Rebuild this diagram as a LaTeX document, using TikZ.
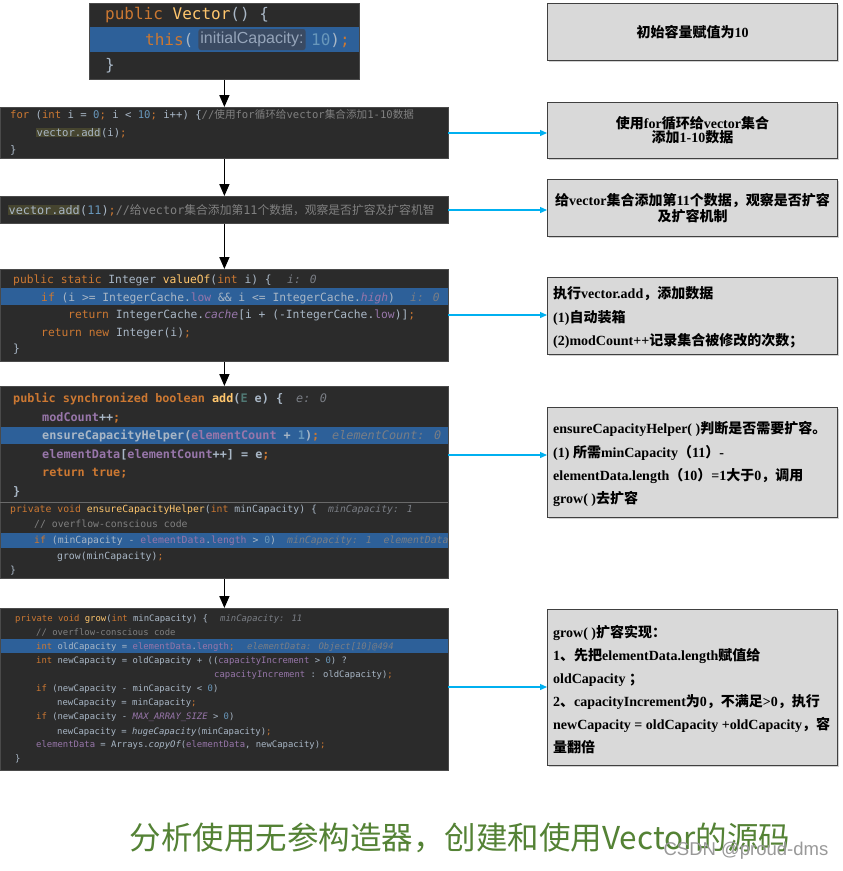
\documentclass[tikz,border=0pt]{standalone}
\usepackage{fontspec}
\setmainfont{Liberation Serif}
\newfontfamily\cjk{Noto Sans CJK SC}
\newfontfamily\codefont{DejaVu Sans Mono}
\newfontfamily\hintfont{Liberation Sans}
\usetikzlibrary{arrows.meta,shadows}
\definecolor{cbg}{HTML}{2B2B2B}
\definecolor{cedge}{HTML}{4A4A4A}
\definecolor{csep}{HTML}{6A6A6A}
\definecolor{cfg}{HTML}{A9B7C6}
\definecolor{ckw}{HTML}{CC7832}
\definecolor{cfn}{HTML}{FFC66D}
\definecolor{cnum}{HTML}{6897BB}
\definecolor{ccm}{HTML}{808080}
\definecolor{cfd}{HTML}{9876AA}
\definecolor{chint}{HTML}{7A7E85}
\definecolor{chl}{HTML}{2D6099}
\definecolor{colive}{HTML}{46452F}
\definecolor{ctp}{HTML}{507874}
\definecolor{chintbg}{HTML}{3A4A62}
\definecolor{chinttx}{HTML}{96A5BA}
\definecolor{rbfill}{HTML}{D9D9D9}
\definecolor{rbdraw}{HTML}{404040}
\definecolor{arrblue}{HTML}{00B0F0}
\definecolor{capgreen}{RGB}{84,130,53}
\newcommand\cKw[1]{\textcolor{ckw}{#1}}
\newcommand\cFn[1]{\textcolor{cfn}{#1}}
\newcommand\cNum[1]{\textcolor{cnum}{#1}}
\newcommand\cCom[1]{\textcolor{ccm}{#1}}
\newcommand\cFld[1]{\textcolor{cfd}{#1}}
\newcommand\cFldI[1]{\textcolor{cfd}{\itshape #1}}
\newcommand\cHint[1]{\textcolor{chint}{\itshape #1}}
\newcommand\zh[1]{{\cjk #1}}
\newcommand\olv[1]{{\setlength\fboxsep{0.5pt}\colorbox{colive}{#1}}}
\newcommand\fsA{\codefont\fontsize{16}{18}\selectfont}
\newcommand\fsB{\codefont\fontsize{10.6}{12}\selectfont}
\newcommand\fsC{\codefont\fontsize{11.8}{13}\selectfont}
\newcommand\fsD{\codefont\fontsize{11.3}{13}\selectfont}
\newcommand\fsE{\codefont\bfseries\fontsize{11.8}{13}\selectfont}
\newcommand\fsF{\codefont\fontsize{9.8}{11}\selectfont}
\newcommand\fsG{\codefont\fontsize{8.9}{10}\selectfont}
\newcommand\rtfont{\bfseries\fontsize{14}{16}\selectfont}
\begin{document}
\begin{tikzpicture}[x=1pt,y=-1pt,
  codebox/.style={draw=cedge, fill=cbg, line width=0.8pt, inner sep=0, anchor=north west},
  rbox/.style={draw=rbdraw, fill=rbfill, line width=1pt, inner sep=0, anchor=north west,
    drop shadow={shadow xshift=1.5pt, shadow yshift=-1.5pt, fill=black!35}},
  cl/.style={anchor=base west, inner sep=0, text=cfg},
  rt/.style={anchor=base west, inner sep=0, text=black, font=\rtfont},
  blk/.style={draw=black, line width=1.6pt, -{Triangle[length=12pt,width=10pt]}},
  blu/.style={draw=arrblue, line width=1.3pt, -{Triangle[length=7pt,width=6pt]}},
  hintbox/.style={fill=chintbg, rounded corners=2.5pt, text=chinttx, inner xsep=2pt, inner ysep=0pt, minimum height=21pt, font=\hintfont\fontsize{16}{18}\selectfont}
]
\fill[white] (0,0) rectangle (843,871);
\useasboundingbox (0,0) rectangle (843,871);

% ---------- code box 1 ----------
\node[codebox, minimum width=270pt, minimum height=76pt] (c1) at (89,3) {};
\fill[chl] (89.5,27) rectangle (358.5,52);
\node[cl, font=\fsA] (c1l1) at (105,19.8) {\cKw{public} \cFn{Vector}() \{};
\node[cl, font=\fsA] (c1l2a) at (145,45) {\cKw{this}(};
\node[hintbox] (c1h) at (252,39.5) {initialCapacity:};
\node[cl, font=\fsA] (c1l2b) at (311,45) {\cNum{10})\cKw{;}};
\node[cl, font=\fsA] (c1l3) at (105,70.8) {\}};

% ---------- code box 2 ----------
\node[codebox, minimum width=448pt, minimum height=51pt] (c2) at (0,107) {};
\begin{scope}
\clip (0,107) rectangle (448,158);
\node[cl, font=\fsB] (c2l1) at (10,118.8) {\cKw{for} (\cKw{int} i = \cNum{0}\cKw{;} i < \cNum{10}\cKw{;} i++) \{\cCom{//\zh{使用}for\zh{循环给}vector\zh{集合添加}1-10\zh{数据}}};
\node[cl, font=\fsB] (c2l2) at (36,136.8) {\olv{vector.add}(i)\cKw{;}};
\node[cl, font=\fsB] (c2l3) at (10,153.8) {\}};
\end{scope}

% ---------- code box 3 ----------
\node[codebox, minimum width=448pt, minimum height=27pt] (c3) at (0,196) {};
\begin{scope}
\clip (0,196) rectangle (448,223);
\node[cl, font=\fsC] (c3l1) at (8,214.2) {\olv{vector.add}(\cNum{11})\cKw{;}\cCom{//\zh{给}vector\zh{集合添加第}11\zh{个数据，观察是否扩容及扩容机智}}};
\end{scope}

% ---------- code box 4 ----------
\node[codebox, minimum width=448pt, minimum height=92pt] (c4) at (0,269) {};
\fill[chl] (0.5,288) rectangle (447.5,305);
\begin{scope}
\clip (0,269) rectangle (448,361);
\node[cl, font=\fsD] (c4l1) at (13,283.1) {\cKw{public static} Integer \cFn{valueOf}(\cKw{int} i) \{};
\node[cl, font=\fsD] (c4h1) at (287,283.1) {\cHint{i: 0}};
\node[cl, font=\fsD] (c4l2) at (41,301) {\cKw{if} (i >= IntegerCache.\cFld{low} \&\& i <= IntegerCache.\cFldI{high})};
\node[cl, font=\fsD] (c4h2) at (410,301) {\cHint{i: 0}};
\node[cl, font=\fsD] (c4l3) at (68,318) {\cKw{return} IntegerCache.\cFldI{cache}[i + (-IntegerCache.\cFld{low})]\cKw{;}};
\node[cl, font=\fsD] (c4l4) at (41,336) {\cKw{return new} Integer(i)\cKw{;}};
\node[cl, font=\fsD] (c4l5) at (13,352) {\}};
\end{scope}

% ---------- code box 5 ----------
\node[codebox, minimum width=448pt, minimum height=192pt] (c5) at (0,386) {};
\fill[chl] (0.5,427) rectangle (447.5,444);
\fill[chl] (0.5,533) rectangle (447.5,548);
\draw[csep, line width=1pt] (0,502) -- (448,502);
\begin{scope}
\clip (0,386) rectangle (448,578);
\node[cl, font=\fsE] (c5l1) at (13,402.2) {\cKw{public synchronized boolean} \cFn{add}(\textcolor{ctp}{E} e) \{};
\node[cl, font=\fsE] (c5h1) at (296,402.2) {\cHint{\mdseries e: 0}};
\node[cl, font=\fsE] (c5l2) at (42,421.2) {\cFld{modCount}++\cKw{;}};
\node[cl, font=\fsE] (c5l3) at (42,439.2) {ensureCapacityHelper(\cFld{elementCount} + \cNum{1})\cKw{;}};
\node[cl, font=\fsE] (c5h3) at (332,439.2) {\cHint{\mdseries elementCount: 0}};
\node[cl, font=\fsE] (c5l4) at (42,458.2) {\cFld{elementData}[\cFld{elementCount}++] = e\cKw{;}};
\node[cl, font=\fsE] (c5l5) at (42,476.2) {\cKw{return true;}};
\node[cl, font=\fsE] (c5l6) at (13,495.2) {\}};
\node[cl, font=\fsF] (c5m1) at (10,512.5) {\cKw{private void} \cFn{ensureCapacityHelper}(\cKw{int} minCapacity) \{};
\node[cl, font=\fsF] (c5k1) at (328,512.5) {\cHint{minCapacity: 1}};
\node[cl, font=\fsF] (c5m2) at (34,527.5) {\cCom{// overflow-conscious code}};
\node[cl, font=\fsF] (c5m3) at (34,543.5) {\cKw{if} (minCapacity - \cFld{elementData}.\cFld{length} > \cNum{0})};
\node[cl, font=\fsF] (c5k3) at (287,543.5) {\cHint{minCapacity: 1\ \ elementData}};
\node[cl, font=\fsF] (c5m4) at (57,559.5) {grow(minCapacity)\cKw{;}};
\node[cl, font=\fsF] (c5m5) at (10,573.5) {\}};
\end{scope}

% ---------- code box 6 ----------
\node[codebox, minimum width=448pt, minimum height=162pt] (c6) at (0,608) {};
\fill[chl] (0.5,638.5) rectangle (447.5,653);
\begin{scope}
\clip (0,608) rectangle (448,770);
\node[cl, font=\fsG] (c6l1) at (15,621.2) {\cKw{private void} \cFn{grow}(\cKw{int} minCapacity) \{};
\node[cl, font=\fsG] (c6h1) at (220,621.2) {\cHint{minCapacity: 11}};
\node[cl, font=\fsG] (c6l2) at (36,635.2) {\cCom{// overflow-conscious code}};
\node[cl, font=\fsG] (c6l3) at (36,649.2) {\cKw{int} oldCapacity = \cFld{elementData}.\cFld{length}\cKw{;}};
\node[cl, font=\fsG] (c6h3) at (247,649.2) {\cHint{elementData: Object[10]@494}};
\node[cl, font=\fsG] (c6l4) at (36,663.2) {\cKw{int} newCapacity = oldCapacity + ((\cFld{capacityIncrement} > \cNum{0}) ?};
\node[cl, font=\fsG] (c6l5) at (214,677.2) {\cFld{capacityIncrement} : oldCapacity)\cKw{;}};
\node[cl, font=\fsG] (c6l6) at (36,691.2) {\cKw{if} (newCapacity - minCapacity < \cNum{0})};
\node[cl, font=\fsG] (c6l7) at (57,705.2) {newCapacity = minCapacity\cKw{;}};
\node[cl, font=\fsG] (c6l8) at (36,719.2) {\cKw{if} (newCapacity - \cFldI{MAX\_ARRAY\_SIZE} > \cNum{0})};
\node[cl, font=\fsG] (c6l9) at (57,734.2) {newCapacity = {\itshape hugeCapacity}(minCapacity)\cKw{;}};
\node[cl, font=\fsG] (c6l10) at (36,747.2) {\cFld{elementData} = Arrays.{\itshape copyOf}(\cFld{elementData}, newCapacity)\cKw{;}};
\node[cl, font=\fsG] (c6l11) at (15,761.2) {\}};
\end{scope}

% ---------- black arrows ----------
\draw[blk] (c1.south) -- (c2.north);
\draw[blk] (c2.south) -- (c3.north);
\draw[blk] (c3.south) -- (c4.north);
\draw[blk] (c4.south) -- (c5.north);
\draw[blk] (c5.south) -- (c6.north);

% ---------- right boxes ----------
\node[rbox, minimum width=290pt, minimum height=57pt, align=center, font=\rtfont] (A) at (547,3) {\zh{初始容量赋值为}10};
\node[rbox, minimum width=290pt, minimum height=56pt, align=center, font=\bfseries\fontsize{14}{14}\selectfont] (B) at (547,102) {\zh{使用}for\zh{循环给}vector\zh{集合}\\\zh{添加}1-10\zh{数据}};
\node[rbox, minimum width=290pt, minimum height=57pt, align=center, font=\bfseries\fontsize{14}{16}\selectfont] (C) at (547,179) {\zh{给}vector\zh{集合添加第}11\zh{个数据，观察是否扩容}\\\zh{及扩容机制}};
\node[rbox, minimum width=290pt, minimum height=77pt] (D) at (547,277) {};
\node[rbox, minimum width=290pt, minimum height=110pt] (E) at (547,407) {};
\node[rbox, minimum width=290pt, minimum height=156pt] (F) at (547,609) {};

\node[rt] (d1) at (553,298.3) {\zh{执行}vector.add\zh{，添加数据}};
\node[rt] (d2) at (553,322.3) {(1)\zh{自动装箱}};
\node[rt] (d3) at (553,345.3) {(2)modCount++\zh{记录集合被修改的次数；}};

\node[rt] (e1) at (553,433.3) {ensureCapacityHelper( )\zh{判断是否需要扩容。}};
\node[rt] (e2) at (553,457.3) {(1) \zh{所需}minCapacity\zh{（}11\zh{）}-};
\node[rt] (e3) at (553,480.3) {elementData.length\zh{（}10\zh{）}=1\zh{大于}0\zh{，调用}};
\node[rt] (e4) at (553,503.3) {grow( )\zh{去扩容}};

\node[rt] (f1) at (553,637.3) {grow( )\zh{扩容实现：}};
\node[rt] (f2) at (553,660.3) {1\zh{、先把}elementData.length\zh{赋值给}};
\node[rt] (f3) at (553,683.3) {oldCapacity \zh{；}};
\node[rt] (f4) at (553,706.3) {2\zh{、}capacityIncrement\zh{为}0\zh{，不满足}>0\zh{，执行}};
\node[rt] (f5) at (553,729.3) {newCapacity = oldCapacity +oldCapacity\zh{，容}};
\node[rt] (f6) at (553,752.3) {\zh{量翻倍}};

% ---------- blue arrows ----------
\coordinate (s2) at (448,133);
\coordinate (s3) at (448,210);
\coordinate (s4) at (448,315);
\coordinate (s5) at (448,455);
\coordinate (s6) at (448,687);
\draw[blu] (s2) -- (s2 -| B.west);
\draw[blu] (s3) -- (s3 -| C.west);
\draw[blu] (s4) -- (s4 -| D.west);
\draw[blu] (s5) -- (s5 -| E.west);
\draw[blu] (s6) -- (s6 -| F.west);

% ---------- caption ----------
\node[inner sep=0, text=capgreen, font=\cjk\fontsize{31.5}{34}\selectfont] (cap) at (460,838) {分析使用无参构造器，创建和使用Vector的源码};
\node[inner sep=0, text=black!40, font=\hintfont\fontsize{18.5}{20}\selectfont] (wm) at (746,851) {CSDN @proud-dms};
\end{tikzpicture}
\end{document}
